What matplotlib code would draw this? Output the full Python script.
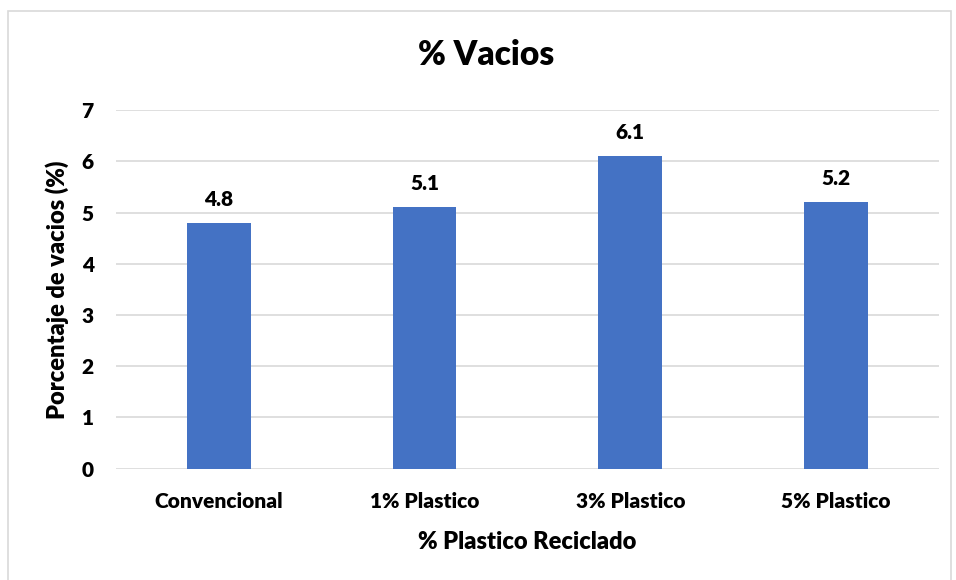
import matplotlib
matplotlib.use("Agg")
import matplotlib.pyplot as plt
from matplotlib.patches import Rectangle

categories = ["Convencional", "1% Plastico", "3% Plastico", "5% Plastico"]
vacios = [4.8, 5.1, 6.1, 5.2]
y_ticks = [0, 1, 2, 3, 4, 5, 6, 7]

plt.rcParams["font.family"] = ["Lato", "DejaVu Sans"]
plt.rcParams["font.weight"] = "heavy"

fig = plt.figure(figsize=(9.56, 5.8), dpi=100)
ax = fig.add_axes([0.1213, 0.1919, 0.8609, 0.6184])

# chart frame like excel
fig.patches.append(Rectangle((8 / 956, -0.01), 943 / 956, 1 - 11 / 580 + 0.01,
                             transform=fig.transFigure, fill=False,
                             edgecolor="#d9d9d9", linewidth=1.2))

x = range(len(categories))
bars = ax.bar(x, vacios, width=0.31, color="#4472C4", zorder=3)
for b, v in zip(bars, vacios):
    ax.annotate(f"{v}", (b.get_x() + b.get_width() / 2, v),
                xytext=(0, 10), textcoords="offset points",
                ha="center", va="bottom", fontsize=15, fontweight="heavy")

ax.set_xlim(-0.5, len(categories) - 0.5)
ax.set_ylim(0, 7)
ax.set_yticks(y_ticks)
ax.set_xticks(list(x))
ax.set_xticklabels(categories)
ax.tick_params(axis="both", length=0, labelsize=15)
ax.tick_params(axis="x", pad=17)
ax.tick_params(axis="y", pad=16)
ax.grid(axis="y", color="#d9d9d9", linewidth=1.2, zorder=0)
for s in ax.spines.values():
    s.set_visible(False)

fig.text(486 / 956, 1 - 55 / 580, "% Vacios", fontsize=24, fontweight="heavy",
         ha="center", va="center")
ax.set_ylabel("Porcentaje de vacios (%)", fontsize=17, fontweight="heavy", labelpad=9)
ax.set_xlabel("% Plastico Reciclado", fontsize=17, fontweight="heavy", labelpad=14)

fig.savefig("out.png", dpi=100)
